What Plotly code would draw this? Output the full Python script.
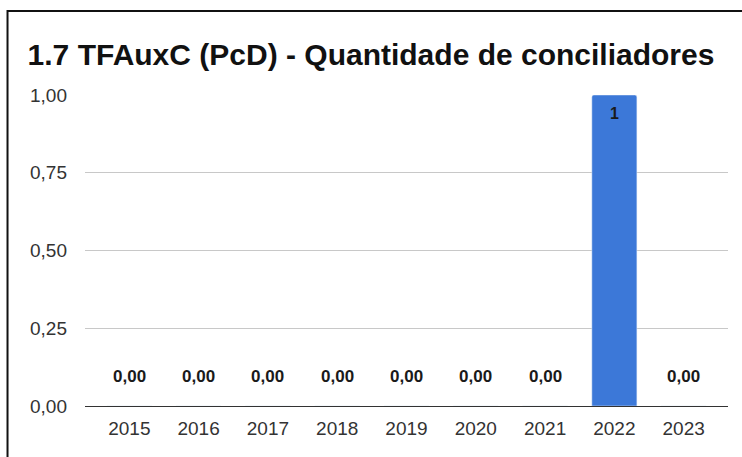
import plotly.graph_objects as go

anos = ["2015", "2016", "2017", "2018", "2019", "2020", "2021", "2022", "2023"]
conciliadores = [0, 0, 0, 0, 0, 0, 0, 1, 0]
rotulos = ["0,00", "0,00", "0,00", "0,00", "0,00", "0,00", "0,00", "1", "0,00"]
ticks_y = [0, 0.25, 0.5, 0.75, 1.0]

FONTE = "Liberation Sans, Arial"

fig = go.Figure()

fig.add_trace(go.Bar(
    x=anos,
    y=conciliadores,
    marker_color="#3c78d8",
    marker_cornerradius=2,
    width=0.65,
    hoverinfo="skip",
))

# rótulos dos valores: zeros acima da linha de base, demais dentro do topo da barra
for i, (v, r) in enumerate(zip(conciliadores, rotulos)):
    fig.add_annotation(
        x=i, y=v, text="<b>" + r + "</b>", showarrow=False,
        yshift=30 if v == 0 else -18,
        font=dict(family=FONTE, size=17 if v == 0 else 16, color="#1a1a1a"),
    )

# moldura do recorte (bordas esquerda e superior)
fig.add_shape(type="rect", xref="paper", yref="paper",
              x0=-0.1205, x1=1.1, y0=-0.3, y1=1.27,
              line=dict(color="#111111", width=2))

fig.update_layout(
    width=742, height=457,
    margin=dict(l=85, r=14, t=95, b=51),
    paper_bgcolor="white", plot_bgcolor="white",
    separators=",.",
    showlegend=False,
    title=dict(
        text="<b>1.7 TFAuxC (PcD) - Quantidade de conciliadores</b>",
        x=0.5, xref="container", y=0.88, yref="container", yanchor="middle",
        font=dict(family=FONTE, size=30, color="#111111"),
    ),
    xaxis=dict(
        type="category", range=[-0.64, 8.64],
        showgrid=False, ticks="", showline=False, ticklabelstandoff=9,
        tickfont=dict(family=FONTE, size=19, color="#333333"),
    ),
    yaxis=dict(
        range=[0, 1.0], tickvals=ticks_y, tickformat=".2f",
        showgrid=True, gridcolor="#c8c8c8", gridwidth=1,
        zeroline=True, zerolinecolor="#333333", zerolinewidth=1,
        showline=False, ticks="", ticklabelstandoff=17,
        tickfont=dict(family=FONTE, size=19, color="#333333"),
    ),
    font=dict(family=FONTE),
)

fig.write_html("out.html", config={"displayModeBar": False},
               post_script="document.body.style.margin='0px';")
